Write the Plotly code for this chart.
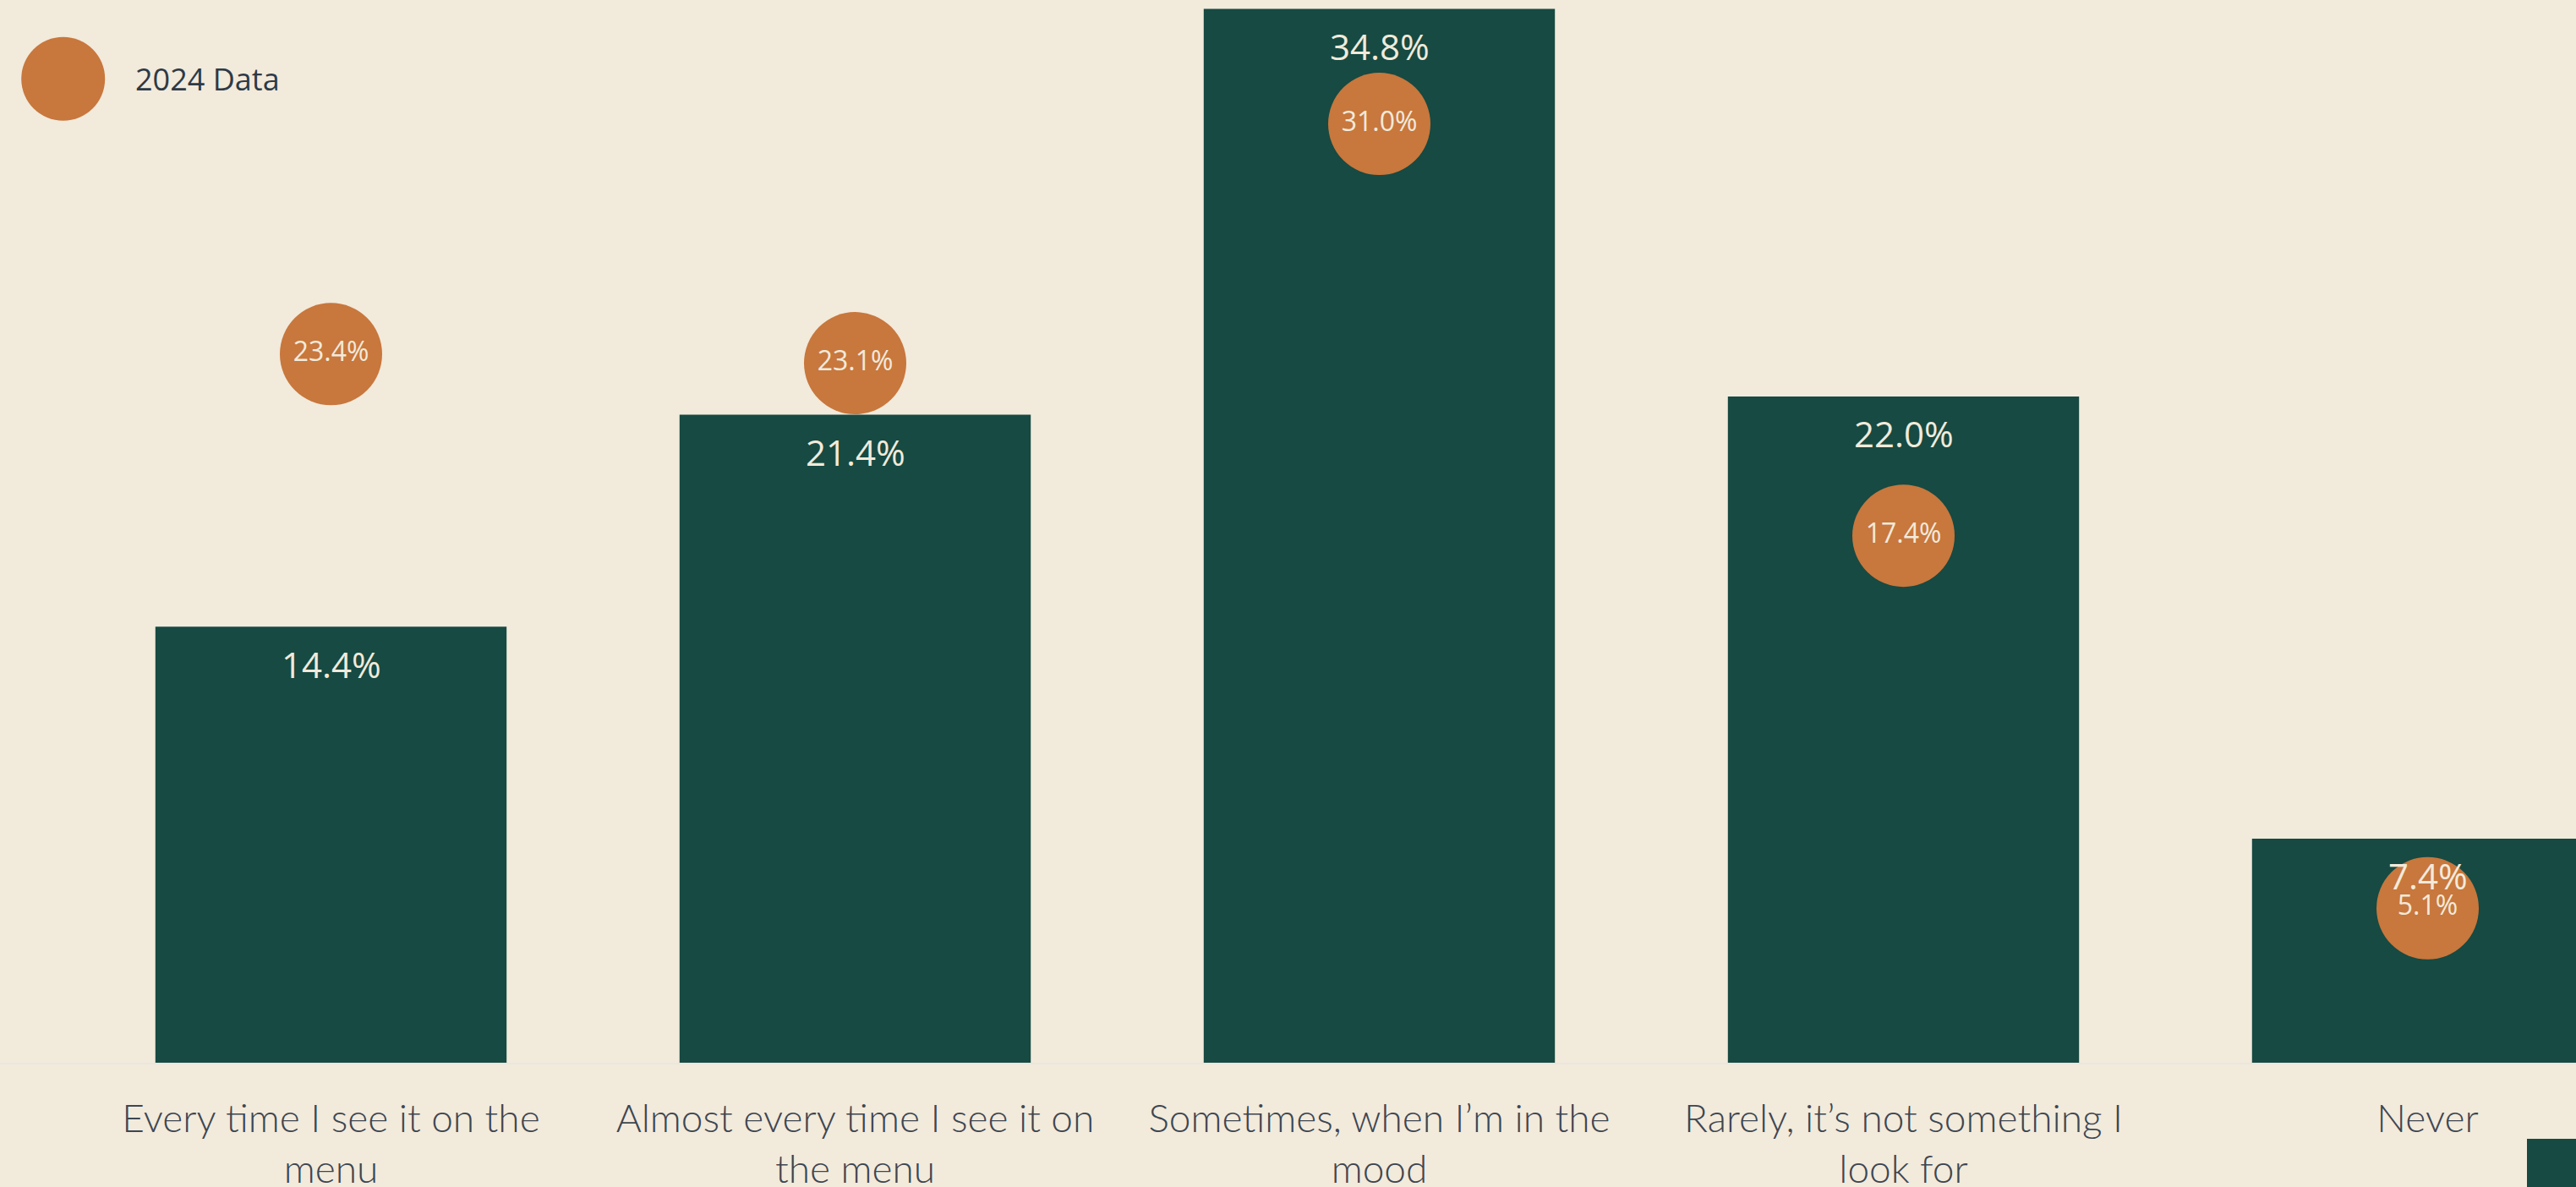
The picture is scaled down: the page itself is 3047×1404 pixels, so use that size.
import plotly.graph_objects as go

# Survey answers and results
categories = [
    "Every time I see it on the<br>menu",
    "Almost every time I see it on<br>the menu",
    "Sometimes, when I’m in the<br>mood",
    "Rarely, it’s not something I<br>look for",
    "Never",
]
current_values = [14.4, 21.4, 34.8, 22.0, 7.4]
data_2024 = [23.4, 23.1, 31.0, 17.4, 5.1]
legend_label = "2024 Data"

BG = "#F2EADB"
BAR = "#164A42"
ORANGE = "#C8773D"
CREAM = "#F2EADB"
LABEL = "#3D4651"

W, H = 3047, 1404
BOTTOM = 147

x = list(range(len(categories)))

fig = go.Figure()

fig.add_trace(go.Bar(
    x=x, y=current_values, width=0.67,
    marker=dict(color=BAR, line=dict(width=0)),
    showlegend=False, hoverinfo="skip",
))

fig.add_trace(go.Scatter(
    x=x, y=data_2024, mode="markers+text", name=legend_label,
    marker=dict(size=121, color=ORANGE, line=dict(width=0)),
    text=[f"{v:.1f}%" for v in data_2024],
    textposition="middle center",
    textfont=dict(family="Open Sans", size=32, color=CREAM),
    showlegend=False, cliponaxis=False, hoverinfo="skip",
))

# value labels near the top of each bar
for xi, v in zip(x, current_values):
    fig.add_annotation(
        x=xi, y=v, text=f"{v:.1f}%", showarrow=False,
        yanchor="middle", yshift=-44,
        font=dict(family="Open Sans", size=42, color=CREAM),
    )

plot_h = H - BOTTOM
leg_cx, leg_cy = 74.7, 93.3
fig.add_shape(
    type="circle", xref="paper", yref="paper",
    xsizemode="pixel", ysizemode="pixel",
    xanchor=leg_cx / W, yanchor=(plot_h - leg_cy) / plot_h,
    x0=-49.5, x1=49.5, y0=-49.5, y1=49.5,
    fillcolor=ORANGE, line=dict(width=0),
)
fig.add_annotation(
    xref="paper", yref="paper", x=158 / W, y=(plot_h - leg_cy) / plot_h,
    xanchor="left", yanchor="middle", text=legend_label, showarrow=False,
    font=dict(family="Open Sans", size=36, color="#2E3A46"),
)

# key swatch partly visible in the lower right corner
fig.add_shape(
    type="rect", xref="paper", yref="paper",
    x0=2989 / W, x1=1.0, y0=(plot_h - H) / plot_h, y1=(plot_h - 1347) / plot_h,
    fillcolor=BAR, line=dict(width=0),
)

span = W / 620.0
x_start = -391.5 / 620.0
fig.update_layout(
    width=W, height=H,
    margin=dict(l=0, r=0, t=0, b=BOTTOM, autoexpand=False),
    paper_bgcolor=BG, plot_bgcolor=BG,
    showlegend=False,
    xaxis=dict(
        range=[x_start, x_start + span],
        tickvals=x, ticktext=categories,
        tickfont=dict(family="Lato", size=46, color=LABEL, weight=300),
        ticklabelstandoff=25, automargin=False,
        showline=True, linecolor="#E9E6E1", linewidth=2,
        ticks="", showgrid=False, zeroline=False,
    ),
    yaxis=dict(range=[0, plot_h / 35.82], visible=False, automargin=False),
)

fig.write_html("out.html")
